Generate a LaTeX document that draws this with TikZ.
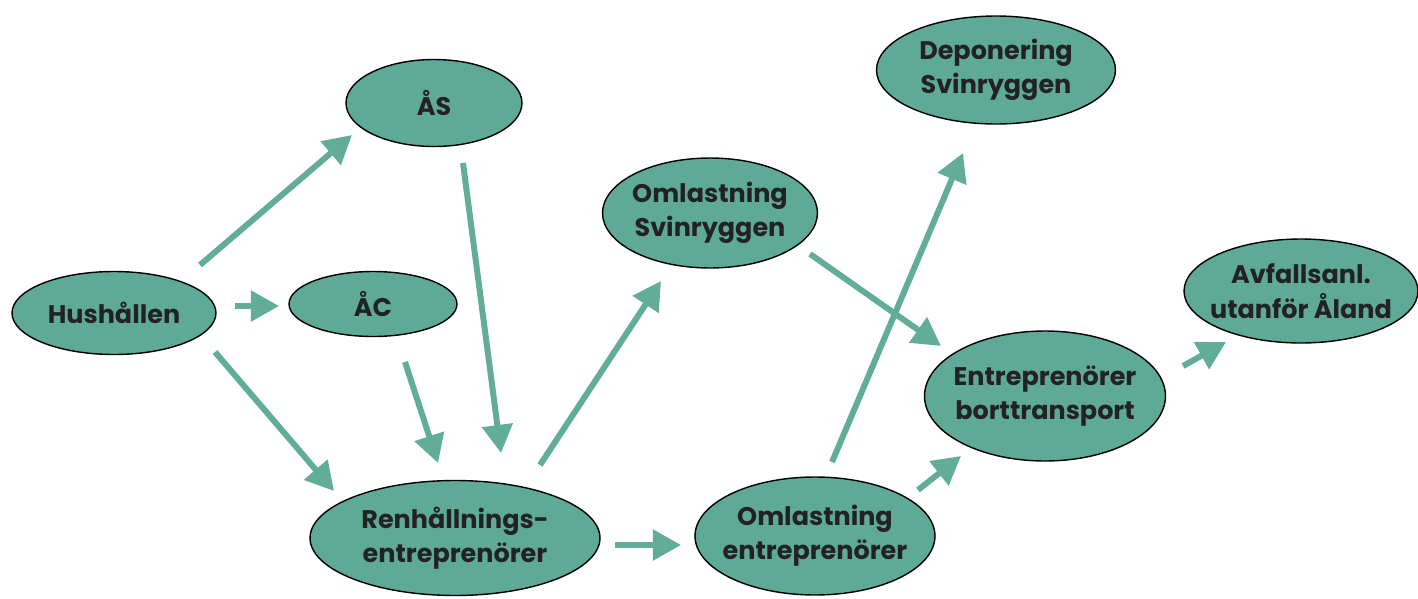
\documentclass[tikz,border=0pt]{standalone}
\usepackage{fontspec}
\setmainfont{Poppins}
\usetikzlibrary{shapes.geometric,arrows.meta}
\definecolor{fillg}{HTML}{5FAA96}
\definecolor{arrg}{HTML}{62AD97}
\definecolor{txt}{HTML}{222222}
\tikzset{
  bub/.style={ellipse, draw=black, line width=0.8pt, fill=fillg, inner xsep=-14pt, inner ysep=-8pt,
    text=txt, align=center, font=\fontsize{14.5}{19.5}\selectfont\bfseries},
  flow/.style={draw=arrg, line width=3.4pt, -{Triangle[length=16pt,width=17pt]}}
}
\begin{document}
\begin{tikzpicture}[x=0.02cm,y=-0.02cm]
\useasboundingbox (0,0) rectangle (1418,599);
\node[bub, minimum width=4.08cm, minimum height=1.66cm] (hus) at (114,313) {Hushållen};
\node[bub, minimum width=3.52cm, minimum height=1.74cm] (as) at (434,103) {ÅS};
\node[bub, minimum width=3.36cm, minimum height=1.30cm] (ac) at (373,304) {ÅC};
\node[bub, minimum width=5.80cm, minimum height=2.30cm] (ren) at (455,538) {Renhållnings-\\entreprenörer};
\node[bub, minimum width=4.30cm, minimum height=2.20cm] (oms) at (710,213) {Omlastning\\Svinryggen};
\node[bub, minimum width=4.80cm, minimum height=2.36cm] (ome) at (815,536) {Omlastning\\entreprenörer};
\node[bub, minimum width=4.78cm, minimum height=2.16cm] (dep) at (996,70) {Deponering\\Svinryggen};
\node[bub, minimum width=4.82cm, minimum height=2.60cm] (ent) at (1045,396) {Entreprenörer\\borttransport};
\node[bub, minimum width=4.68cm, minimum height=2.08cm] (avf) at (1301,291) {Avfallsanl.\\utanför Åland};
% connector end points
\coordinate (hus-as-a) at (200,265); \coordinate (hus-as-b) at (352,135);
\coordinate (hus-ac-a) at (235,306); \coordinate (hus-ac-b) at (279,306);
\coordinate (hus-ren-a) at (215,352); \coordinate (hus-ren-b) at (334,491);
\coordinate (ac-ren-a) at (405,362); \coordinate (ac-ren-b) at (438,463);
\coordinate (as-ren-a) at (463,163); \coordinate (as-ren-b) at (501,453);
\coordinate (ren-oms-a) at (540,465); \coordinate (ren-oms-b) at (661,281);
\coordinate (ren-ome-a) at (615,545); \coordinate (ren-ome-b) at (681,545);
\coordinate (oms-ent-a) at (810,254); \coordinate (oms-ent-b) at (941,346);
\coordinate (ome-dep-a) at (832,462); \coordinate (ome-dep-b) at (963,153);
\coordinate (ome-ent-a) at (918,490); \coordinate (ome-ent-b) at (961,456);
\coordinate (ent-avf-a) at (1183,366); \coordinate (ent-avf-b) at (1226,342);
\foreach \c in {hus-as,hus-ac,hus-ren,ac-ren,as-ren,ren-oms,ren-ome,oms-ent,ome-dep,ome-ent,ent-avf}
  \draw[flow] (\c-a) -- (\c-b);
\end{tikzpicture}
\end{document}
